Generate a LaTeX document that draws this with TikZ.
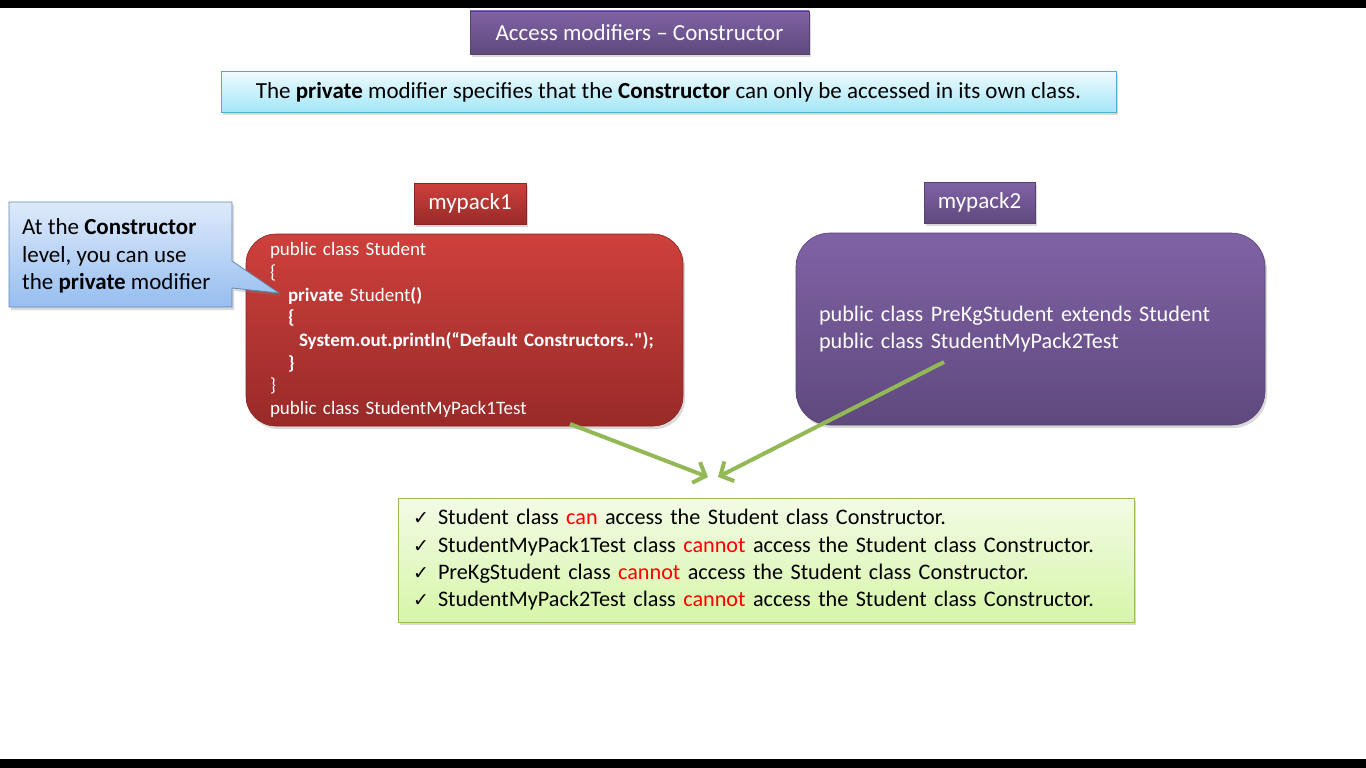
\documentclass[tikz,border=0pt]{standalone}
\usepackage{fontspec}
\setmainfont{Carlito}
\newfontfamily\symfont{DejaVu Sans}
\newfontfamily\tightfont[WordSpace=0.6]{Carlito}
\usetikzlibrary{shadows,arrows.meta}
\definecolor{purpT}{RGB}{128,98,166}
\definecolor{purpB}{RGB}{95,73,125}
\definecolor{redT}{RGB}{206,64,60}
\definecolor{redB}{RGB}{152,42,40}
\definecolor{cyanT}{RGB}{238,251,254}
\definecolor{cyanB}{RGB}{165,230,248}
\definecolor{cyanL}{RGB}{80,175,200}
\definecolor{blueT}{RGB}{222,234,251}
\definecolor{blueB}{RGB}{150,190,240}
\definecolor{blueL}{RGB}{100,135,180}
\definecolor{grnT}{RGB}{242,251,230}
\definecolor{grnB}{RGB}{215,246,168}
\definecolor{grnL}{RGB}{155,187,89}
\definecolor{arrowgreen}{RGB}{146,185,85}
\begin{document}
\begin{tikzpicture}[x=1pt,y=-1pt,
  shad/.style={drop shadow={shadow xshift=2pt,shadow yshift=-3pt,opacity=0.3}},
  big/.style={font=\fontsize{23}{27}\selectfont},
  mid/.style={font=\fontsize{22.2}{27.3}\selectfont},
  purplebox/.style={shad,top color=purpT,bottom color=purpB,draw=purpB!90!black,line width=0.6pt,text=white,big,inner sep=0pt},
  redbox/.style={shad,top color=redT,bottom color=redB,draw=redB!90!black,line width=0.6pt,text=white,inner sep=0pt},
  cyanbox/.style={shad,top color=cyanT,bottom color=cyanB,draw=cyanL,line width=0.8pt,big,inner sep=0pt},
  greenbox/.style={shad,top color=grnT,bottom color=grnB,draw=grnL,line width=0.8pt,inner sep=0pt},
  calloutshape/.style={shad,top color=blueT,bottom color=blueB,draw=blueL,line width=0.8pt},
  greenarrow/.style={draw=arrowgreen,line width=4pt,-{Straight Barb[length=10pt,width=22pt,line width=4pt]}}]
\useasboundingbox (0,0) rectangle (1366,768);
\fill[black] (0,0) rectangle (1366,8);
\fill[black] (0,759) rectangle (1366,768);

% title
\node[purplebox,minimum width=339pt,minimum height=43pt] (title) at (639.5,32.5) {Access modifiers – Constructor};

% subtitle
\node[cyanbox,minimum width=895pt,minimum height=41pt,text height=19pt,text depth=5pt] (sub) at (668.5,91.5)
  {The \textbf{private} modifier specifies that the \textbf{Constructor} can only be accessed in its own class.};

% package labels
\node[redbox,big,minimum width=112pt,minimum height=41pt] (lab1) at (470,203.5) {mypack1};
\node[purplebox,minimum width=111pt,minimum height=41pt] (lab2) at (979.5,202.5) {mypack2};

% package boxes
\node[redbox,rounded corners=30pt,minimum width=437pt,minimum height=192pt,
      text width=389pt,inner xsep=24pt,align=left,font=\tightfont\fontsize{19}{22.7}\selectfont] (pack1) at (464.5,330)
  {public class Student\\
   \{\\
   \hspace*{18pt}\textbf{private} Student\textbf{()}\\
   \hspace*{18pt}\textbf{\{}\\
   \hspace*{29pt}\textbf{System.out.println(“Default Constructors..");}\\
   \hspace*{18pt}\textbf{\}}\\
   \}\\
   public class StudentMyPack1Test};

\node[purplebox,mid,rounded corners=34pt,minimum width=469pt,minimum height=192pt,
      text width=423pt,inner xsep=23pt,align=left] (pack2) at (1030.5,329)
  {public class PreKgStudent extends Student\\
   public class StudentMyPack2Test};

% callout
\path[calloutshape] (9,202) -- (232,202) -- (232,261) -- (279,293) -- (232,288) -- (232,307) -- (9,307) -- cycle;
\node[big,font=\fontsize{23}{27.5}\selectfont,anchor=west,align=left,inner sep=0pt] (callout) at (22,256)
  {At the \textbf{Constructor}\\
   level, you can use\\
   the \textbf{private} modifier};

% result box
\node[greenbox,mid,minimum width=736pt,minimum height=124pt,text width=706pt,inner xsep=15pt,align=left] (result) at (766,560)
  {\makebox[25pt][l]{\symfont\fontsize{19}{19}\selectfont ✓}Student class \textcolor{red}{can} access the Student class Constructor.\\
   \makebox[25pt][l]{\symfont\fontsize{19}{19}\selectfont ✓}StudentMyPack1Test class \textcolor{red}{cannot} access the Student class Constructor.\\
   \makebox[25pt][l]{\symfont\fontsize{19}{19}\selectfont ✓}PreKgStudent class \textcolor{red}{cannot} access the Student class Constructor.\\
   \makebox[25pt][l]{\symfont\fontsize{19}{19}\selectfont ✓}StudentMyPack2Test class \textcolor{red}{cannot} access the Student class Constructor.};

% arrows
\coordinate (a1s) at (570,424);
\coordinate (a1e) at (708,477);
\coordinate (a2s) at (944,362);
\coordinate (a2e) at (718,477);
\draw[greenarrow] (a1s) -- (a1e);
\draw[greenarrow] (a2s) -- (a2e);
\end{tikzpicture}
\end{document}
